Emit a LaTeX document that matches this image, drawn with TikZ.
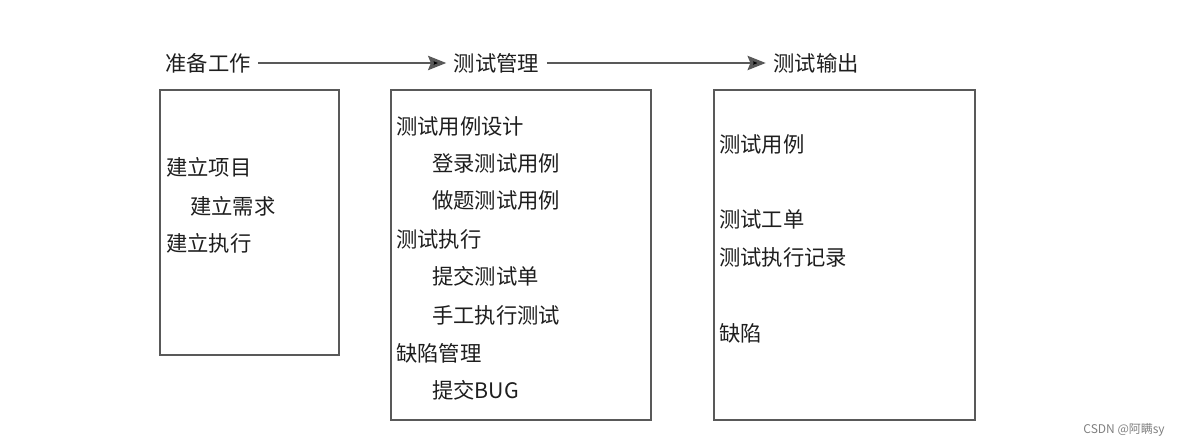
\documentclass[tikz,border=0pt]{standalone}
\usepackage{fontspec}
\setmainfont{Noto Sans CJK SC}
\usetikzlibrary{arrows.meta}
\definecolor{framegray}{RGB}{89,89,89}
\definecolor{inkgray}{RGB}{30,30,30}

\begin{document}
\begin{tikzpicture}[x=0.75pt,y=-0.75pt,
    title/.style={inner xsep=5.5pt,inner ysep=0,text=inkgray,font=\fontsize{16}{19}\selectfont},
    item/.style={anchor=west,inner sep=0,text=inkgray,font=\fontsize{16}{19}\selectfont},
    frame/.style={draw=framegray,line width=2.2pt},
    flow/.style={draw=framegray,line width=2.2pt,-{Stealth[length=13.5pt,width=10.5pt,inset=2pt]}}]
    \useasboundingbox (0,0) rectangle (1179,447);
    % column titles
    \node[title](prep) at (208,63) {准备工作};
    \node[title](mgmt) at (496.5,63) {测试管理};
    \node[title](outp) at (816,63) {测试输出};
    \path[flow]
      (prep) edge (mgmt)
      (mgmt) edge (outp)
      ;
    % frames
    \draw[frame] (160,90) rectangle (339,355);
    \draw[frame] (391,90) rectangle (651,420);
    \draw[frame] (714,90) rectangle (975,420);
    % first column
    \node[item](p1) at (166,167) {建立项目};
    \node[item](p2) at (190,206) {建立需求};
    \node[item](p3) at (166,243) {建立执行};
    % second column
    \node[item](m1) at (396,126) {测试用例设计};
    \node[item](m2) at (432,163) {登录测试用例};
    \node[item](m3) at (432,200) {做题测试用例};
    \node[item](m4) at (396,239) {测试执行};
    \node[item](m5) at (432,276) {提交测试单};
    \node[item](m6) at (432,315) {手工执行测试};
    \node[item](m7) at (396,353) {缺陷管理};
    \node[item](m8) at (432,390) {提交BUG};
    % third column
    \node[item](o1) at (719,144) {测试用例};
    \node[item](o2) at (719,219) {测试工单};
    \node[item](o3) at (719,257) {测试执行记录};
    \node[item](o4) at (719,333) {缺陷};
    % watermark
    \node[anchor=east,inner sep=0,text=gray,font=\fontsize{9}{11}\selectfont](mark) at (1165,430) {CSDN @阿瞒sy};
\end{tikzpicture}
\end{document}
